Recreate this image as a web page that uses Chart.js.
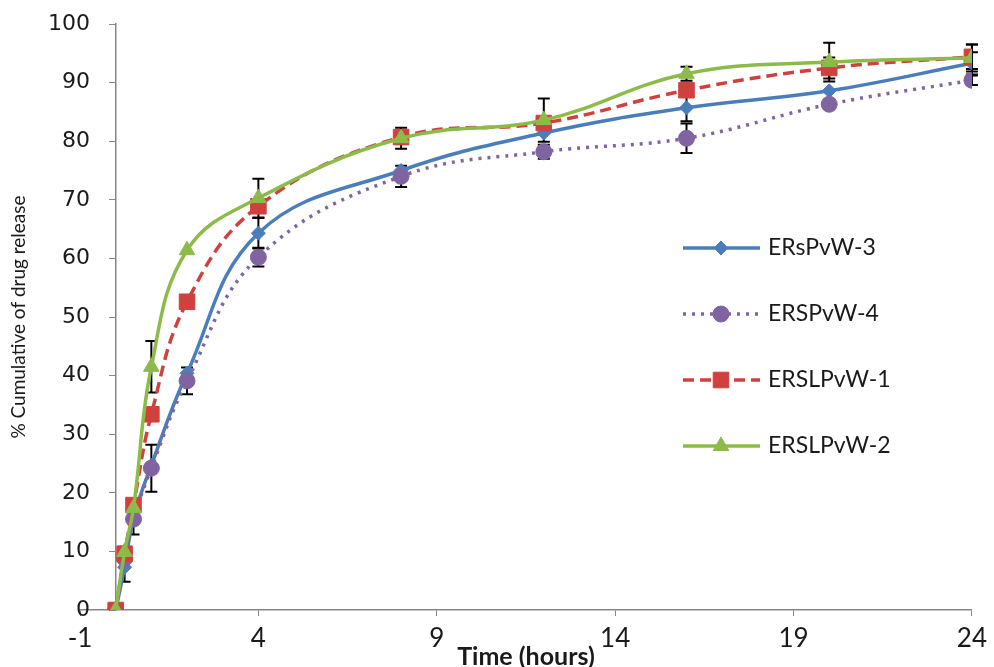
<!DOCTYPE html>
<html>
<head>
<meta charset="utf-8">
<script src="https://cdn.jsdelivr.net/npm/chart.js@4/dist/chart.umd.min.js"></script>
<style>
html,body{margin:0;padding:0;background:#ffffff;}
#wrap{width:994px;height:667px;position:relative;}
</style>
</head>
<body>
<div id="wrap"><canvas id="c" width="994" height="667"></canvas></div>
<script>
// ---- data ----
const timeHours = [0, 0.25, 0.5, 1, 2, 4, 8, 12, 16, 20, 24];
const seriesNames = ['ERsPvW-3', 'ERSPvW-4', 'ERSLPvW-1', 'ERSLPvW-2'];
const ersPvW3  = [0, 7.3, 15.7, 24.7, 40.4, 64.3, 75.0, 81.4, 85.7, 88.6, 93.3];
const ersPvW4  = [0, 8.8, 15.5, 24.2, 39.1, 60.2, 74.0, 78.2, 80.5, 86.3, 90.4];
const erslPvW1 = [0, 9.6, 17.9, 33.4, 52.6, 68.9, 80.7, 83.1, 88.7, 92.5, 94.4];
const erslPvW2 = [0, 9.9, 17.4, 41.5, 61.4, 70.3, 80.5, 83.6, 91.5, 93.5, 94.2];
// symmetric error bars (SD)
const errPvW3  = [0, 2.5, 0, 0, 0, 2.6, 0, 0, 2.3, 0, 1.9];
const errPvW4  = [0, 0, 2.6, 4.0, 2.3, 1.6, 1.8, 1.2, 2.5, 0.8, 0.8];
const errLPvW1 = [0, 1.2, 0, 0, 0, 0, 0, 0, 0, 1.8, 2.1];
const errLPvW2 = [0, 0, 0, 4.4, 0, 3.3, 1.8, 3.7, 1.2, 3.3, 2.3];
const xTickLabels = [-1, 4, 9, 14, 19, 24];
const yTickLabels = [0, 10, 20, 30, 40, 50, 60, 70, 80, 90, 100];
const xTitle = 'Time (hours)';
const yTitle = '% Cumulative of drug release';

const seriesValues = [ersPvW3, ersPvW4, erslPvW1, erslPvW2];
const seriesErrors = [errPvW3, errPvW4, errLPvW1, errLPvW2];

// ---- styles ----
const styles = [
  {color: '#4A7EBB', fill: '#4A7EBB', dash: [], width: 3.5, point: 'rectRot', radius: 7, order: 4},
  {color: '#7F64A0', fill: '#8064A2', dash: [3, 6], width: 3.5, point: 'circle', radius: 8, order: 3},
  {color: '#D0413E', fill: '#D0413E', dash: [11, 6], width: 3.5, point: 'rect', radius: 11, order: 2},
  {color: '#8DBB4A', fill: '#8DBB4A', dash: [], width: 3.5, point: 'triangle', radius: 9, order: 1}
];

const datasets = seriesNames.map((name, i) => ({
  label: name,
  data: timeHours.map((t, j) => ({x: t, y: seriesValues[i][j]})),
  errors: seriesErrors[i],
  yAxisID: 'y',
  borderColor: styles[i].color,
  backgroundColor: styles[i].fill,
  borderWidth: styles[i].width,
  borderDash: styles[i].dash,
  pointStyle: styles[i].point,
  pointRadius: styles[i].radius,
  pointBorderWidth: 1,
  pointBorderColor: styles[i].fill,
  pointBackgroundColor: styles[i].fill,
  tension: 0.4,
  fill: false,
  order: styles[i].order
}));

const errorBarPlugin = {
  id: 'errorBars',
  beforeDatasetsDraw(chart) {
    const ctx = chart.ctx, xs = chart.scales.x, ys = chart.scales.y;
    ctx.save();
    ctx.strokeStyle = '#000000';
    ctx.lineWidth = 2;
    chart.data.datasets.forEach(ds => {
      ds.data.forEach((p, j) => {
        const e = ds.errors[j];
        if (!e) return;
        const px = xs.getPixelForValue(p.x);
        const yt = ys.getPixelForValue(p.y + e);
        const yb = ys.getPixelForValue(p.y - e);
        ctx.beginPath();
        ctx.moveTo(px, yt); ctx.lineTo(px, yb);
        ctx.moveTo(px - 6, yt); ctx.lineTo(px + 6, yt);
        ctx.moveTo(px - 6, yb); ctx.lineTo(px + 6, yb);
        ctx.stroke();
      });
    });
    ctx.restore();
  }
};

const legendPlugin = {
  id: 'insideLegend',
  afterDraw(chart) {
    const ctx = chart.ctx;
    const x0 = 683, x1 = 760, xm = 721, tx = 768;
    const ys = [248, 314, 380, 446];
    ctx.save();
    chart.data.datasets.forEach((ds, i) => {
      const y = ys[i];
      ctx.beginPath();
      ctx.strokeStyle = ds.borderColor;
      ctx.lineWidth = ds.borderWidth;
      ctx.setLineDash(ds.borderDash);
      ctx.moveTo(x0, y); ctx.lineTo(x1, y);
      ctx.stroke();
      ctx.setLineDash([]);
      ctx.fillStyle = ds.backgroundColor;
      ctx.strokeStyle = ds.backgroundColor;
      ctx.lineWidth = 1;
      Chart.helpers.drawPoint(ctx, {pointStyle: ds.pointStyle, radius: ds.pointRadius, rotation: 0, borderWidth: 1}, xm, y);
      ctx.fillStyle = '#1a1a1a';
      ctx.font = '23px Lato';
      ctx.textAlign = 'left';
      ctx.textBaseline = 'middle';
      ctx.fillText(ds.label, tx, y);
    });
    // y-axis title
    const ca = chart.chartArea;
    ctx.translate(19, (ca.top + ca.bottom) / 2);
    ctx.rotate(-Math.PI / 2);
    ctx.font = '19px Lato';
    ctx.fillStyle = '#1a1a1a';
    ctx.textAlign = 'center';
    ctx.textBaseline = 'middle';
    ctx.fillText(yTitle, 0, 0);
    ctx.restore();
  }
};

new Chart(document.getElementById('c'), {
  type: 'line',
  data: {datasets},
  options: {
    responsive: false,
    animation: false,
    layout: {padding: {left: 80, right: 19, top: 24, bottom: 0}},
    plugins: {legend: {display: false}, tooltip: {enabled: false}},
    elements: {line: {borderCapStyle: 'butt'}},
    scales: {
      x: {
        type: 'linear',
        min: xTickLabels[0],
        max: xTickLabels[xTickLabels.length - 1],
        afterBuildTicks: s => { s.ticks = xTickLabels.map(v => ({value: v})); },
        afterFit: s => { s.height = 57; },
        grid: {drawOnChartArea: false, drawTicks: true, tickLength: 6, color: '#868686'},
        border: {display: true, color: '#868686', width: 1.5},
        ticks: {font: {family: 'Lato', size: 26}, color: '#1a1a1a', padding: 7, maxRotation: 0, autoSkip: false},
        title: {display: true, text: xTitle, font: {family: 'Lato', size: 25, weight: 'bold'}, color: '#1a1a1a', padding: {top: 0, bottom: -5}}
      },
      y: {
        type: 'linear',
        position: {x: 0},
        min: yTickLabels[0],
        max: yTickLabels[yTickLabels.length - 1],
        afterBuildTicks: s => { s.ticks = yTickLabels.map(v => ({value: v})); },
        grid: {drawOnChartArea: false, drawTicks: true, tickLength: 6, color: '#868686'},
        border: {display: true, color: '#868686', width: 1.5},
        ticks: {display: false},
        title: {display: false}
      },
      yLabels: {
        type: 'linear',
        position: {x: -0.72},
        min: yTickLabels[0],
        max: yTickLabels[yTickLabels.length - 1],
        afterBuildTicks: s => { s.ticks = yTickLabels.map(v => ({value: v})); },
        grid: {display: false},
        border: {display: false},
        ticks: {font: {family: 'DejaVu Sans', size: 22}, color: '#1a1a1a', padding: 0},
        title: {display: false}
      }
    }
  },
  plugins: [errorBarPlugin, legendPlugin]
});
</script>
</body>
</html>
